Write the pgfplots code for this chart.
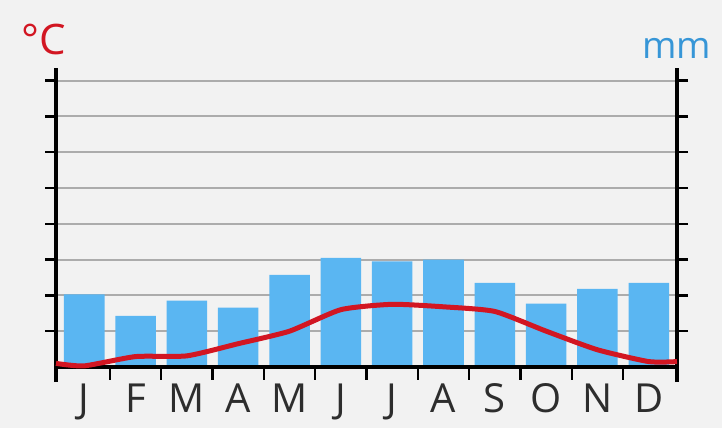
\documentclass[border=0pt]{standalone}
\usepackage{fontspec}
\setmainfont{Open Sans}
\usepackage{pgfplots}
\pgfplotsset{compat=1.18}

\definecolor{barblue}{RGB}{90,182,242}
\definecolor{tempred}{RGB}{210,22,34}
\definecolor{panelbg}{RGB}{242,242,242}
\definecolor{gridgray}{RGB}{172,172,172}
\definecolor{mmblue}{RGB}{55,150,215}
\definecolor{labelgray}{RGB}{45,45,45}

\begin{document}
\begin{tikzpicture}[x=1pt,y=1pt,
    month/.style={labelgray, anchor=base, inner sep=0pt, yshift=-23pt,
        font=\fontsize{20}{20}\selectfont}]
% panel
\fill[white] (0,0) rectangle (363,222);
\fill[panelbg] (0,8) rectangle (361,222);
\useasboundingbox (0,0) rectangle (363,222);

\begin{axis}[
    at={(28pt,31pt)}, anchor=south west,
    scale only axis,
    width=310.5pt, height=157pt,
    xmin=0.45, xmax=12.55,
    ymin=-0.42, ymax=8.35,
    separate axis lines,
    x axis line style={draw=none},
    y axis line style={black, line width=2pt},
    xtick=\empty,
    ytick={1,2,3,4,5,6,7,8},
    yticklabels={},
    ytick pos=both,
    tick align=outside,
    major tick length=5.5pt,
    y tick style={black, line width=1.2pt},
    ymajorgrids,
    grid style={gridgray, line width=1pt},
    clip=false,
]

% precipitation (mm)
\addplot[ybar, bar width=0.79, fill=barblue, draw=none]
coordinates {
    (1,2.03)(2,1.43)(3,1.85)(4,1.66)(5,2.57)(6,3.05)
    (7,2.95)(8,3.00)(9,2.35)(10,1.77)(11,2.18)(12,2.35)
};

% baseline and month ticks
\draw[black, line width=2pt] (axis cs:0.45,0) -- (axis cs:12.55,0);
\pgfplotsinvokeforeach{1.5,2.5,3.5,4.5,5.5,6.5,7.5,8.5,9.5,10.5,11.5}{
    \draw[black, line width=1.2pt] (axis cs:#1,0) -- (axis cs:#1,-0.36);
}

% temperature (degC)
\addplot[tempred, line width=2.5pt, smooth, tension=0.35, line join=round]
coordinates {
    (0.45,0.10)(1,0.03)(2,0.29)(3,0.31)(4,0.65)(5,1.00)(6,1.60)
    (7,1.75)(8,1.68)(9,1.55)(10,1.00)(11,0.48)(12,0.15)(12.55,0.15)
};

% month labels
\node[month] at (axis cs:1,0)  {J};
\node[month] at (axis cs:2,0)  {F};
\node[month] at (axis cs:3,0)  {M};
\node[month] at (axis cs:4,0)  {A};
\node[month] at (axis cs:5,0)  {M};
\node[month] at (axis cs:6,0)  {J};
\node[month] at (axis cs:7,0)  {J};
\node[month] at (axis cs:8,0)  {A};
\node[month] at (axis cs:9,0)  {S};
\node[month] at (axis cs:10,0) {O};
\node[month] at (axis cs:11,0) {N};
\node[month] at (axis cs:12,0) {D};
\end{axis}

% unit labels
\node[tempred, anchor=base west, inner sep=0pt, font=\fontsize{21}{21}\selectfont] at (10.5,194.5) {°C};
\node[mmblue, anchor=base west, inner sep=0pt, font=\fontsize{18.5}{18.5}\selectfont] at (321,192.5) {mm};
\end{tikzpicture}
\end{document}
